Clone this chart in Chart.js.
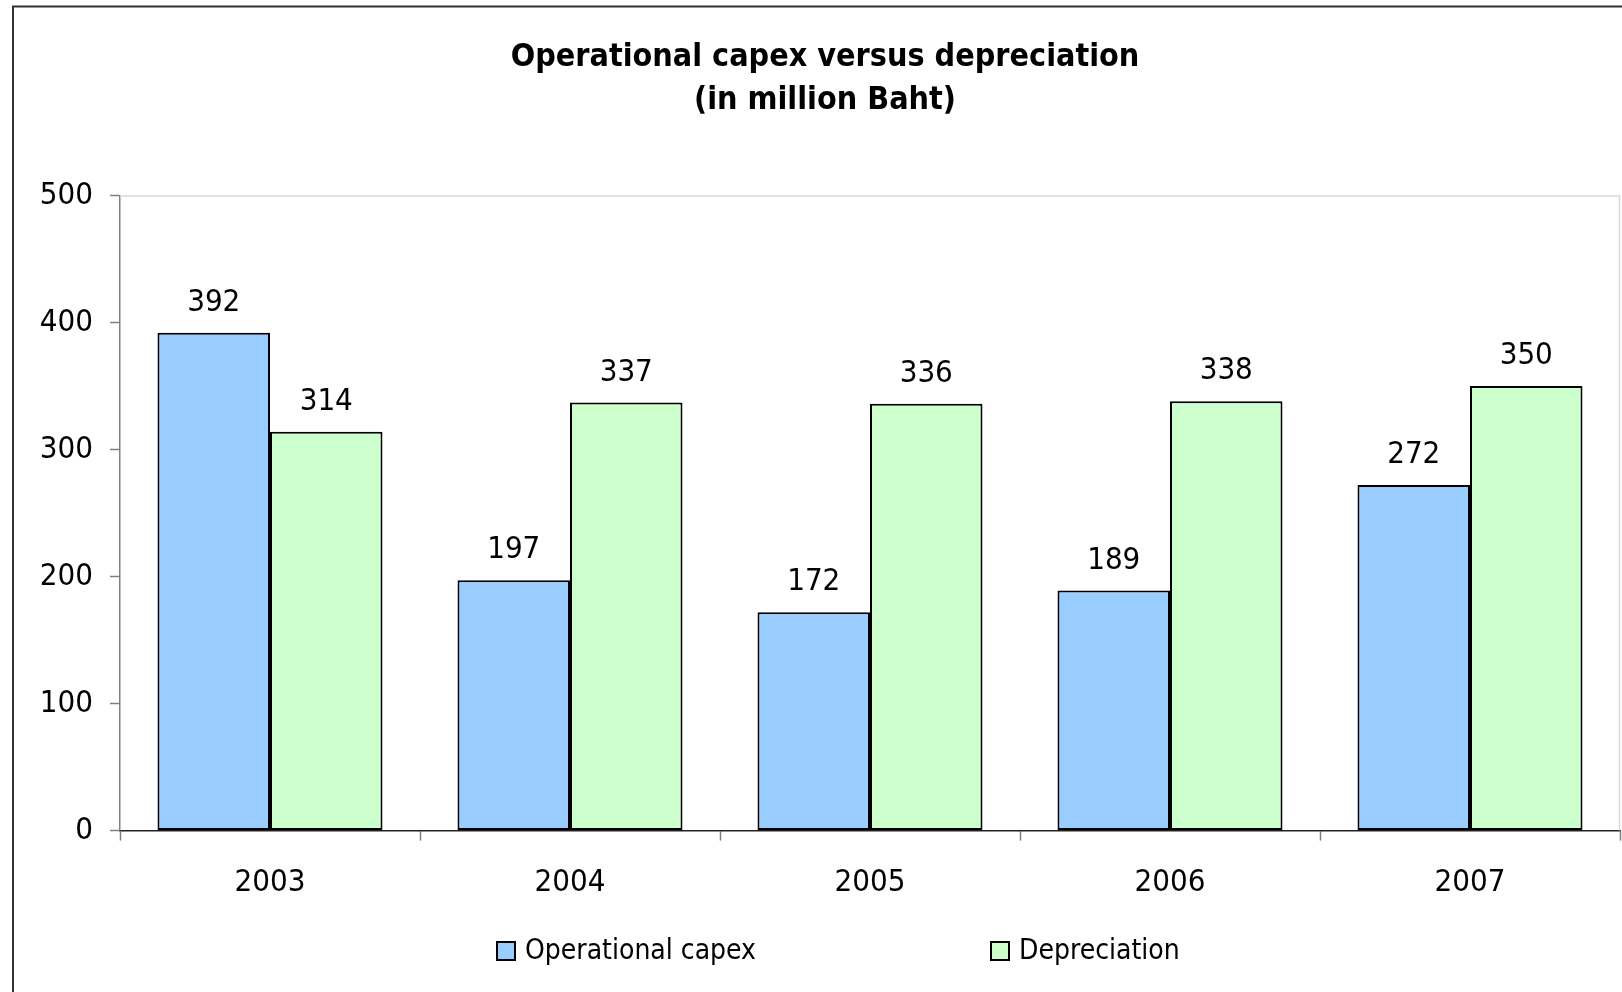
<!DOCTYPE html>
<html><head><meta charset="utf-8">
<script src="https://cdn.jsdelivr.net/npm/chart.js@4.4.0/dist/chart.umd.min.js"></script>
<style>html,body{margin:0;padding:0;background:#fff;}canvas{display:block;}</style>
</head><body>
<canvas id="c" width="1622" height="992"></canvas>
<script>
// ---- data ----
const categories = ['2003', '2004', '2005', '2006', '2007'];
const capex = [392, 197, 172, 189, 272];
const depreciation = [314, 337, 336, 338, 350];
const seriesNames = ['Operational capex', 'Depreciation'];
const yTickValues = [0, 100, 200, 300, 400, 500];
const titleLines = ['Operational capex versus depreciation', '(in million Baht)'];

// ---- styling ----
const FONT = '"DejaVu Sans Condensed", "DejaVu Sans", sans-serif';
const COLORS = ['#99CCFF', '#CCFFCC'];

const framePlugin = {
  id: 'frame',
  beforeDraw(chart) {
    const ctx = chart.ctx;
    ctx.save();
    ctx.fillStyle = '#fff';
    ctx.fillRect(0, 0, chart.width, chart.height);
    ctx.strokeStyle = '#333';
    ctx.lineWidth = 2;
    ctx.strokeRect(13, 6.5, chart.width + 50, chart.height + 50);
    ctx.restore();
  },
  beforeDatasetsDraw(chart) {
    const a = chart.chartArea, ctx = chart.ctx;
    ctx.save();
    ctx.strokeStyle = '#d9d9d9';
    ctx.lineWidth = 1.5;
    ctx.beginPath();
    ctx.moveTo(a.left, a.top + 0.5);
    ctx.lineTo(a.right - 0.5, a.top + 0.5);
    ctx.lineTo(a.right - 0.5, a.bottom);
    ctx.stroke();
    ctx.restore();
  }
};

const labelPlugin = {
  id: 'valueLabels',
  afterDatasetsDraw(chart) {
    const ctx = chart.ctx;
    ctx.save();
    ctx.font = '31px ' + FONT;
    ctx.fillStyle = '#000';
    ctx.textAlign = 'center';
    ctx.textBaseline = 'middle';
    chart.data.datasets.forEach((ds, di) => {
      chart.getDatasetMeta(di).data.forEach((el, i) => {
        ctx.fillText(String(ds.data[i]), el.x, el.y - 30);
      });
    });
    ctx.restore();
  }
};

const legendPlugin = {
  id: 'customLegend',
  afterDraw(chart) {
    const ctx = chart.ctx;
    const starts = [497, 991];
    const cy = 951, box = 18;
    ctx.save();
    ctx.font = '28px ' + FONT;
    ctx.textBaseline = 'middle';
    ctx.textAlign = 'left';
    chart.data.datasets.forEach((ds, i) => {
      const x = starts[i];
      ctx.fillStyle = ds.backgroundColor;
      ctx.fillRect(x, cy - box / 2, box, box);
      ctx.strokeStyle = '#000';
      ctx.lineWidth = 2;
      ctx.strokeRect(x, cy - box / 2, box, box);
      ctx.fillStyle = '#000';
      ctx.fillText(ds.label, x + 28, cy + 1);
    });
    ctx.restore();
  }
};

new Chart(document.getElementById('c'), {
  type: 'bar',
  data: {
    labels: categories,
    datasets: [
      { label: seriesNames[0], data: capex, backgroundColor: COLORS[0], borderColor: '#000', borderWidth: 2, borderSkipped: false, categoryPercentage: 0.75, barPercentage: 1.0 },
      { label: seriesNames[1], data: depreciation, backgroundColor: COLORS[1], borderColor: '#000', borderWidth: 2, borderSkipped: false, categoryPercentage: 0.75, barPercentage: 1.0 }
    ]
  },
  options: {
    responsive: false,
    animation: false,
    devicePixelRatio: 1,
    layout: { padding: { left: 30, right: 2, top: 0, bottom: 81.4 } },
    plugins: {
      legend: { display: false },
      tooltip: { enabled: false },
      title: {
        display: true,
        text: titleLines,
        color: '#000',
        font: { family: FONT, size: 32, weight: 'bold', lineHeight: 43 / 32 },
        padding: { top: 36.5, bottom: 73 }
      }
    },
    scales: {
      x: {
        grid: { offset: true, drawOnChartArea: false, tickLength: 10, tickColor: '#808080', tickWidth: 1.5 },
        border: { color: '#222', width: 1.5 },
        ticks: { color: '#000', font: { family: FONT, size: 31 }, padding: 24 },
        afterFit(scale) { scale.height = 80; }
      },
      y: {
        min: 0, max: 500,
        afterBuildTicks(scale) { scale.ticks = yTickValues.map(v => ({ value: v })); },
        grid: { drawOnChartArea: false, tickLength: 10, tickColor: '#808080', tickWidth: 1.5 },
        border: { color: '#808080', width: 1.5 },
        ticks: { color: '#000', font: { family: FONT, size: 31 }, padding: 17 },
        afterFit(scale) { scale.width = 90; }
      }
    }
  },
  plugins: [framePlugin, labelPlugin, legendPlugin]
});
</script>
</body></html>
